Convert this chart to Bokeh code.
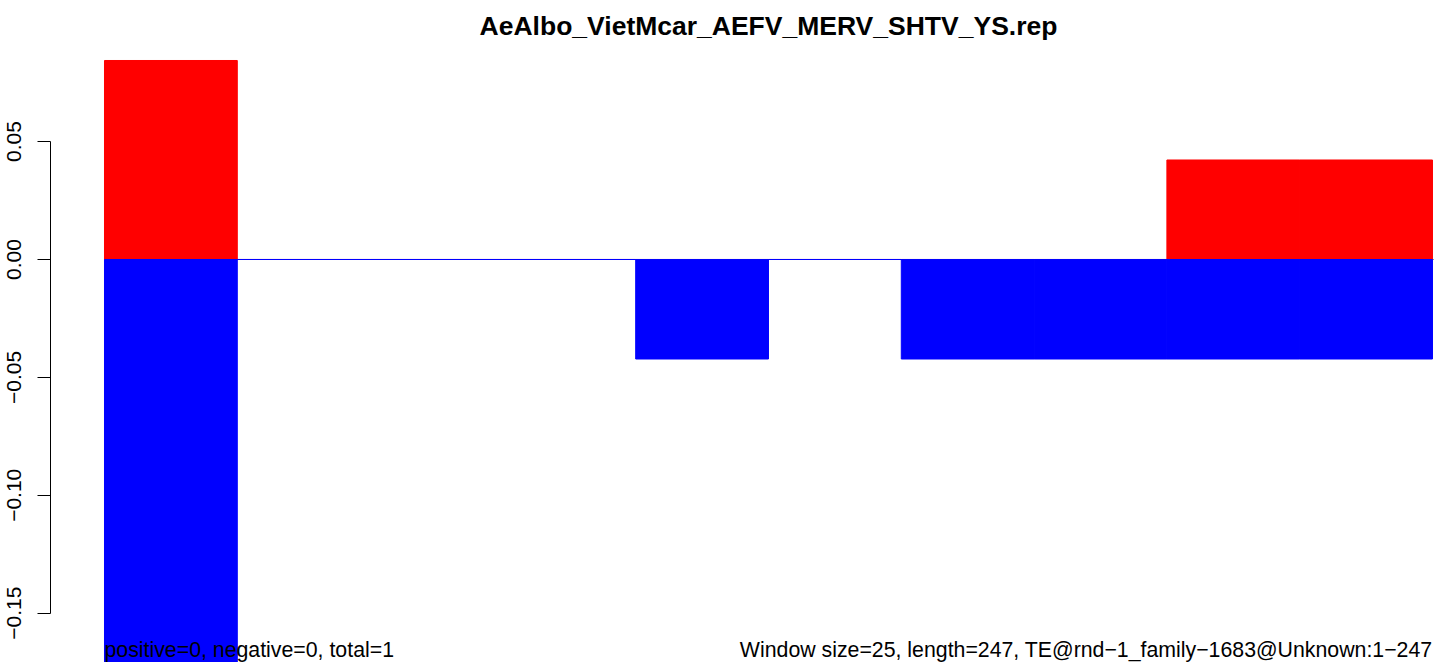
from bokeh.plotting import figure
from bokeh.models import Range1d, FixedTicker, Label, ColumnDataSource, LinearAxis
from bokeh.embed import file_html
from bokeh.resources import INLINE

# ---- data ----
windows = [1, 2, 3, 4, 5, 6, 7, 8, 9, 10]
positive = [0.0844, 0, 0, 0, 0, 0, 0, 0, 0.0422, 0.0422]
negative = [-0.175, 0, 0, 0, -0.0422, 0, -0.0422, -0.0422, -0.0422, -0.0422]
y_ticks = [-0.15, -0.10, -0.05, 0.00, 0.05]
y_tick_labels = ["\u22120.15", "\u22120.10", "\u22120.05", "0.00", "0.05"]
title_text = "AeAlbo_VietMcar_AEFV_MERV_SHTV_YS.rep"
left_note = "positive=0, negative=0, total=1"
right_note = "Window size=25, length=247, TE@rnd\u22121_family\u22121683@Unknown:1\u2212247"

FONT = "Liberation Sans"

p = figure(width=1441, height=662, output_backend="svg", toolbar_location=None,
           x_range=Range1d(-0.7831, 10.0678), y_range=Range1d(-0.17091, 0.10984),
           x_axis_location=None, y_axis_location=None,
           min_border_left=0, min_border_right=0,
           min_border_top=0, min_border_bottom=0)
p.outline_line_color = None
p.grid.visible = False
p.background_fill_color = "white"
p.border_fill_color = "white"

src = ColumnDataSource(dict(
    left=[w - 1 for w in windows], right=windows,
    pos=positive, neg=negative, zero=[0] * len(windows)))

# zero line (under the bars)
p.segment(x0=[0], y0=[0], x1=[10.01], y1=[0], line_color="#808080", line_width=1)

p.quad(left="left", right="right", bottom="zero", top="pos", source=src,
       fill_color="#FF0000", line_color="#FF0000", line_width=1)
p.quad(left="left", right="right", bottom="neg", top="zero", source=src,
       fill_color="#0000FF", line_color="#0000FF", line_width=1)

ax = LinearAxis(fixed_location=-0.4066)
ax.ticker = FixedTicker(ticks=y_ticks)
ax.major_label_overrides = {t: l for t, l in zip(y_ticks, y_tick_labels)}
ax.bounds = (-0.15, 0.05)
ax.minor_tick_line_color = None
ax.major_tick_in = 0
ax.major_tick_out = 13
ax.major_label_standoff = 16
ax.major_label_orientation = "vertical"
ax.major_label_text_font = FONT
ax.major_label_text_font_size = "21px"
ax.major_label_text_color = "black"
ax.axis_line_color = "black"
ax.major_tick_line_color = "black"
p.add_layout(ax, "left")

p.add_layout(Label(x=5, y=0.0992, text=title_text, text_align="center",
                   text_baseline="alphabetic", text_font=FONT,
                   text_font_size="26.5px", text_font_style="bold",
                   text_color="black"))
p.add_layout(Label(x=0, y=-0.1654, text=left_note, text_align="left",
                   text_baseline="alphabetic", text_font=FONT,
                   text_font_size="21.3px", text_color="black"))
p.add_layout(Label(x=10, y=-0.1654, text=right_note, text_align="right",
                   text_baseline="alphabetic", text_font=FONT,
                   text_font_size="21.3px", text_color="black"))

open("out.html", "w").write(file_html(p, INLINE))
